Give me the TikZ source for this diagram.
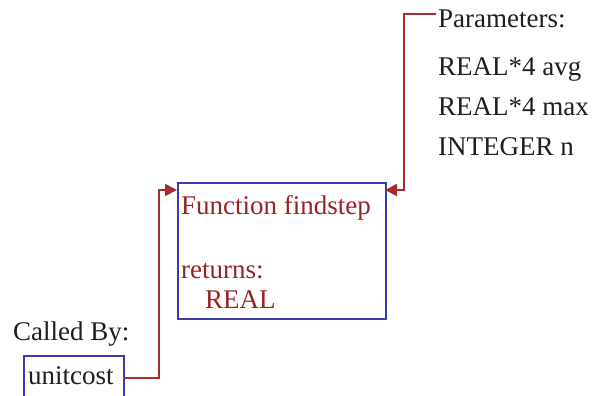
\documentclass[tikz,border=0pt]{standalone}
\usepackage{fontspec}
\setmainfont{Liberation Serif}
\usetikzlibrary{arrows.meta}
\definecolor{boxblue}{RGB}{60,60,175}
\definecolor{linered}{RGB}{165,45,45}
\definecolor{txtred}{RGB}{150,35,35}
\definecolor{txtgray}{RGB}{30,30,30}
\tikzset{
  fbox/.style={draw=boxblue, line width=2pt, rectangle, inner sep=0pt, anchor=north west},
  lbl/.style={inner sep=0pt, anchor=base west, font=\fontsize{27}{32}\selectfont},
  conn/.style={draw=linered, line width=2pt},
  arr/.style={conn, -{Triangle[length=12pt,width=12pt]}}
}
\begin{document}
\begin{tikzpicture}[x=1pt,y=-1pt]
\useasboundingbox (0,0) rectangle (597,396);
% main function box
\node[fbox, minimum width=208pt, minimum height=136pt] (f) at (177,182) {};
\node[lbl, text=txtred] (t1) at (181,214) {Function findstep};
\node[lbl, text=txtred] (t2) at (181,278) {returns:};
\node[lbl, text=txtred] (t3) at (205,308) {REAL};
% called by
\node[lbl, text=txtgray] (cb) at (13,340) {Called By:};
\node[fbox, minimum width=100pt, minimum height=50pt] (u) at (23,355) {};
\node[lbl, text=txtgray] (ut) at (28,384) {unitcost};
\coordinate (uout) at (123,378);
\coordinate (fin) at (177,190);
\draw[arr] (uout) -- ++(36,0) |- (fin);
% parameters
\node[lbl, text=txtgray] (p1) at (438,28) {Parameters:};
\node[lbl, text=txtgray] (p2) at (438,75) {REAL*4 avg};
\node[lbl, text=txtgray] (p3) at (438,115) {REAL*4 max};
\node[lbl, text=txtgray] (p4) at (438,155) {INTEGER n};
\coordinate (pin) at (436,14);
\coordinate (fout) at (385,190);
\draw[arr] (pin) -- ++(-32,0) |- (fout);
\end{tikzpicture}
\end{document}
